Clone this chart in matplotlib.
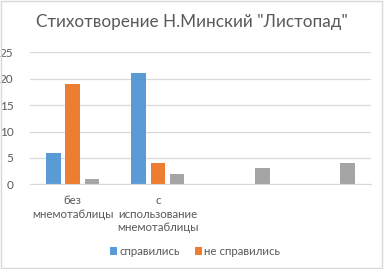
import numpy as np
import matplotlib.pyplot as plt

plt.rcParams['font.family'] = ['Lato', 'DejaVu Sans']

categories = ["без\nмнемотаблицы", "с\nиспользование\nмнемотаблицы", "", ""]
coped = [6, 21, None, None]
not_coped = [19, 4, None, None]
third = [1, 2, 3, 4]
series_names = ["справились", "не справились"]
title = 'Стихотворение Н.Минский "Листопад"'

BLUE, ORANGE, GRAY = "#5B9BD5", "#ED7D31", "#A5A5A5"
TXT = "#595959"

fig = plt.figure(figsize=(3.84, 2.69), dpi=100)
ax = fig.add_axes([30 / 384, 1 - 184.3 / 269, 341 / 384, 132 / 269])

x = np.arange(len(categories))
w = 0.17
step = 0.225

def clean(v):
    return [np.nan if a is None else a for a in v]

ax.bar(x - step, clean(coped), w, color=BLUE, label=series_names[0])
ax.bar(x, clean(not_coped), w, color=ORANGE, label=series_names[1])
ax.bar(x + step, third, w, color=GRAY)

ax.set_xlim(-0.5, len(categories) - 0.5)
ax.set_ylim(0, 25)
ax.set_yticks(range(0, 26, 5))
ax.yaxis.grid(True, color="#D9D9D9", linewidth=0.9)
ax.set_axisbelow(True)
for s in ["top", "right", "left"]:
    ax.spines[s].set_visible(False)
ax.spines["bottom"].set_color("#D9D9D9")
ax.tick_params(axis="both", length=0, colors=TXT, labelsize=8.5)
ax.tick_params(axis="y", pad=12)
ax.set_xticks(x)
ax.set_xticklabels(categories, fontsize=8.3, linespacing=1.25)
ax.tick_params(axis="x", pad=8)

fig.text(0.5, 1 - 22 / 269, title, ha="center", va="center", fontsize=12.3, color=TXT)

ax.legend(loc="center", bbox_to_anchor=(0.485, -0.51), ncol=2, frameon=False,
          fontsize=8.3, labelcolor=TXT, handlelength=0.6, handleheight=0.7,
          handletextpad=0.2, columnspacing=1.3)

fig.patches.append(plt.Rectangle((0.002, 0.004), 0.994, 0.992, transform=fig.transFigure,
                                 fill=False, edgecolor="#D9D9D9", linewidth=1))

fig.savefig("out.png", dpi=100)
